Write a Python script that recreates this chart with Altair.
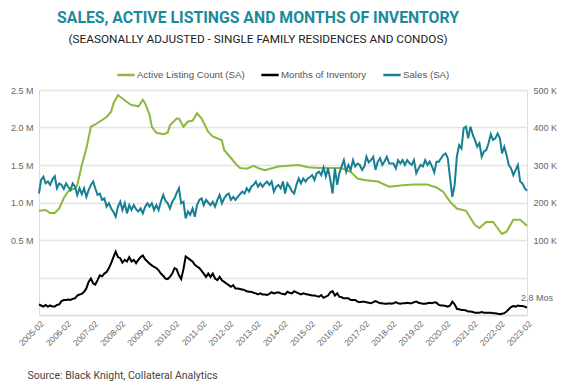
import altair as alt
import pandas as pd

START = "2005-02-01"
N_MONTHS = 217
YEARS = list(range(2005, 2024))

SERIES = ["Active Listing Count (SA)", "Months of Inventory", "Sales (SA)"]
COLORS = ["#8cb83e", "#000000", "#177f92"]

# Sales (SA), thousands, monthly from 2005-02
sales_k = [
    224, 260, 269, 251, 256, 247, 262, 270, 238, 251,
    247, 236, 251, 242, 233, 251, 242, 220, 238, 222,
    238, 215, 233, 247, 256, 238, 220, 224, 207, 211,
    189, 198, 184, 175, 162, 189, 202, 180, 198, 171,
    193, 180, 193, 182, 176, 184, 171, 189, 198, 189,
    198, 180, 193, 180, 202, 220, 205, 198, 184, 202,
    211, 225, 238, 198, 202, 158, 176, 167, 184, 162,
    193, 207, 211,
    193, 207, 200, 193, 202, 189, 207,
    220, 198, 211, 220, 224, 207, 215, 207, 215, 222,
    229, 224, 238, 229, 242, 247, 256, 242, 251, 242,
    250, 256, 247, 256, 229, 242, 247, 238, 256, 224,
    251, 242, 230, 224, 247, 264, 251, 264, 256, 264,
    268, 273, 260, 278, 282, 273, 293, 269, 291, 260,
    224, 291, 247, 278, 296, 313, 282, 300, 287, 313,
    296, 304, 300, 287,
    296, 322, 307, 313, 322, 287,
    309, 318, 300, 310, 322, 304, 304, 304, 291, 313,
    304, 313, 300, 313, 305, 300, 313, 278, 291, 300,
    296, 313, 300, 309, 296, 280, 309, 309, 318, 327,
    331, 318, 264, 215, 247, 322, 353, 344, 398, 402,
    371, 402, 380, 367, 349, 358, 322, 336, 340, 358,
    382, 367, 371, 384, 371, 331, 349, 327, 300, 291,
    273, 287, 300, 256, 251, 238, 231,
]

# Months of inventory, monthly from 2005-02
moi = [
    3.4, 3.2, 3.0, 3.3, 3.0, 3.2, 3.0, 3.0, 3.3, 3.4,
    4.0, 4.2, 4.2, 4.3, 4.2, 4.4, 4.5, 5.0, 5.2, 5.3,
    5.7, 6.3, 7.5, 8.1, 7.2, 7.0, 7.8, 8.7, 8.5, 9.0,
    9.3, 10.0, 10.9, 12.0, 13.0, 12.0, 11.8, 11.0, 11.5, 11.2,
    12.0, 11.2, 11.5, 10.9, 11.5, 12.0, 12.3, 11.6, 11.2, 10.8,
    10.5, 10.2, 10.0, 9.6, 9.0, 8.6, 8.1, 8.0, 8.4, 9.0,
    10.0, 9.8, 8.7, 8.0, 9.8, 12.1, 11.8, 11.5, 11.2, 10.6,
    10.3, 10.0, 9.5,
    9.0, 8.4, 9.0, 8.4, 9.0, 8.1, 7.8,
    8.4, 7.8, 7.5, 7.2, 6.9, 6.6, 6.9, 6.3, 6.3, 6.2,
    6.1, 6.0, 5.8, 5.7, 5.7, 5.5, 5.4, 5.2, 5.4, 5.2,
    5.2, 5.1, 5.3, 5.6, 5.4, 5.5, 5.6, 5.4, 5.3, 5.2,
    5.7, 5.5, 5.4, 5.8, 5.6, 5.4, 5.2, 5.4, 5.3, 5.2,
    5.1, 5.0, 5.0, 4.9, 4.8, 5.1, 4.6, 4.8, 5.0, 5.6,
    5.8, 5.0, 5.4, 4.8, 4.7, 4.5, 4.5, 4.5, 4.2, 4.2,
    4.2, 3.9, 3.8, 3.9,
    3.9, 3.8, 3.7, 3.6, 3.8, 4.0,
    3.8, 3.6, 3.6, 3.5, 3.5, 3.6, 3.5, 3.6, 3.8, 3.6,
    3.5, 3.6, 3.6, 3.7, 3.6, 3.6, 3.8, 3.9, 3.7, 3.6,
    3.5, 3.5, 3.6, 3.7, 3.6, 3.8, 3.7, 3.3, 3.2, 3.2,
    3.1, 3.0, 3.2, 3.9, 3.4, 2.6, 2.5, 2.4, 2.4, 2.3,
    2.1, 2.1, 2.0, 1.9, 1.9, 1.9, 2.0, 1.9, 1.9, 1.9,
    1.9, 1.8, 1.8, 1.7, 1.6, 1.7, 1.8, 2.1, 2.5, 2.9,
    3.1, 3.0, 3.2, 3.1, 3.1, 3.0, 2.8,
]

# Active listing count (SA), millions, at month offsets from 2005-02
listing_month = [
    0, 3, 5, 7, 9, 11, 13, 15, 16, 17,
    19, 21, 23, 25, 27, 30, 32, 33, 35, 36,
    39, 41, 43, 44, 46, 47, 49, 50, 52, 55,
    57, 58, 61, 62, 64, 66, 68, 70, 72, 75,
    77, 81, 82, 84, 87, 89, 92, 95, 97, 100,
    106, 110, 115, 119, 124, 129, 134, 138, 141, 144,
    150, 155, 161, 166, 172, 176, 179, 182, 185, 189,
    193, 195, 198, 201, 205, 207, 210, 213, 216,
]
listing_m = [
    0.89, 0.90, 0.86, 0.86, 0.92, 1.06, 1.15, 1.18, 1.18, 1.23,
    1.50, 1.72, 2.01, 2.04, 2.08, 2.14, 2.21, 2.32, 2.43, 2.41,
    2.34, 2.30, 2.29, 2.28, 2.37, 2.32, 2.17, 2.01, 1.93, 1.91,
    1.93, 2.03, 2.12, 2.12, 2.01, 2.08, 2.09, 2.19, 2.12, 1.94,
    1.88, 1.83, 1.70, 1.63, 1.52, 1.46, 1.45, 1.49, 1.46, 1.43,
    1.48, 1.49, 1.50, 1.47, 1.46, 1.46, 1.46, 1.41, 1.32, 1.30,
    1.28, 1.21, 1.23, 1.24, 1.24, 1.20, 1.14, 1.01, 0.92, 0.89,
    0.70, 0.66, 0.74, 0.74, 0.58, 0.61, 0.77, 0.77, 0.69,
]

END_LABEL = "2.8 Mos"
SOURCE = "Source: Black Knight, Collateral Analytics"
TITLE = "SALES, ACTIVE LISTINGS AND MONTHS OF INVENTORY"
SUBTITLE = "(SEASONALLY ADJUSTED - SINGLE FAMILY RESIDENCES AND CONDOS)"

months = pd.date_range(START, periods=N_MONTHS, freq="MS")
mstr = list(months.strftime("%Y-%m-%d"))

sales_df = pd.DataFrame({"date": mstr, "value": [v * 1000 for v in sales_k], "series": SERIES[2]})
moi_df = pd.DataFrame({"date": mstr, "value": moi, "series": SERIES[1]})
list_df = pd.DataFrame({"date": [mstr[i] for i in listing_month],
                        "value": [v * 1e6 for v in listing_m], "series": SERIES[0]})
end_df = moi_df.tail(1).assign(label=END_LABEL)

LABEL_FONT = "Liberation Sans"
GRID = "#e4e4e4"

x_enc = alt.X(
    "date:T",
    scale=alt.Scale(type="utc",
                    domain=[alt.DateTime(year=2005, month=2, date=1, utc=True),
                            alt.DateTime(year=2023, month=2, date=1, utc=True)]),
    axis=alt.Axis(
        values=[alt.DateTime(year=y, month=2, date=1, utc=True) for y in YEARS],
        labelExpr="utcFormat(datum.value, '%Y-%m')",
        labelAngle=-45, labelAlign="right",
        labelBaseline="top", labelPadding=4, ticks=False, grid=False,
        domainColor="#dddddd", domainWidth=1.5, labelColor="#666666",
        labelFontSize=8.5, labelFont=LABEL_FONT, labelOverlap=False,
        title=SOURCE, titleAnchor="start", titleAlign="left", titleX=-12, titleY=60,
        titleFontWeight="normal", titleFontSize=10.5, titleColor="#444444",
        titleFont="Roboto", titleBaseline="middle",
    ),
)

color_enc = alt.Color(
    "series:N",
    scale=alt.Scale(domain=SERIES, range=COLORS),
    legend=alt.Legend(
        orient="none", legendX=77, legendY=-25, direction="horizontal", title=None,
        symbolType="stroke", symbolStrokeWidth=2.5, symbolSize=300,
        labelFontSize=9.7, labelColor="#555555", labelFont=LABEL_FONT,
        columnPadding=11, labelOffset=1,
    ),
)

listings = alt.Chart(list_df).mark_line(strokeWidth=2).encode(
    x=x_enc,
    y=alt.Y("value:Q",
            scale=alt.Scale(domain=[-500000, 2500000], nice=False, zero=False),
            axis=alt.Axis(
                orient="left",
                values=[-500000, 0, 500000, 1000000, 1500000, 2000000, 2500000],
                labelExpr="datum.value > 0 ? format(datum.value / 1000000, '.1f') + ' M' : ''",
                title=None, domain=False, ticks=False, grid=True, gridColor=GRID,
                gridWidth=1.5, labelColor="#666666", labelFontSize=9,
                labelFont=LABEL_FONT, labelPadding=6,
            )),
    color=color_enc,
)

sales = alt.Chart(sales_df).mark_line(strokeWidth=2).encode(
    x=x_enc,
    y=alt.Y("value:Q",
            scale=alt.Scale(domain=[-100000, 500000], nice=False, zero=False),
            axis=alt.Axis(
                orient="right",
                values=[100000, 200000, 300000, 400000, 500000],
                labelExpr="format(datum.value / 1000, 'd') + ' K'",
                title=None, domain=False, ticks=False, grid=False,
                labelColor="#666666", labelFontSize=9, labelFont=LABEL_FONT,
                labelPadding=6,
            )),
    color=color_enc,
)

moi_scale = alt.Scale(domain=[1.47, 42.38], nice=False, zero=False)

moi_line = alt.Chart(moi_df).mark_line(strokeWidth=2).encode(
    x=x_enc,
    y=alt.Y("value:Q", scale=moi_scale, axis=None),
    color=color_enc,
)

moi_text = alt.Chart(end_df).mark_text(
    align="center", dx=10, dy=-10, fontSize=9, color="#666666", font=LABEL_FONT
).encode(
    x=x_enc,
    y=alt.Y("value:Q", scale=moi_scale, axis=None),
    text="label:N",
)

chart = alt.layer(listings, moi_line, sales, moi_text).resolve_scale(
    y="independent"
).properties(
    width=488,
    height=225,
    padding={"left": 31, "top": 82, "right": 36, "bottom": 68},
    autosize=alt.AutoSizeParams(type="none"),
    title=alt.TitleParams(
        text=TITLE, subtitle=SUBTITLE, anchor="middle", dx=-25,
        font="Roboto", fontSize=15.8, fontWeight="bold", color="#1b8a9c",
        subtitleFont="Roboto", subtitleFontSize=11.8, subtitleColor="#222222",
        subtitlePadding=7, offset=18,
    ),
).configure_view(stroke=None).configure(background="white")

chart.save("out.html", embed_options={"renderer": "svg", "actions": False})
